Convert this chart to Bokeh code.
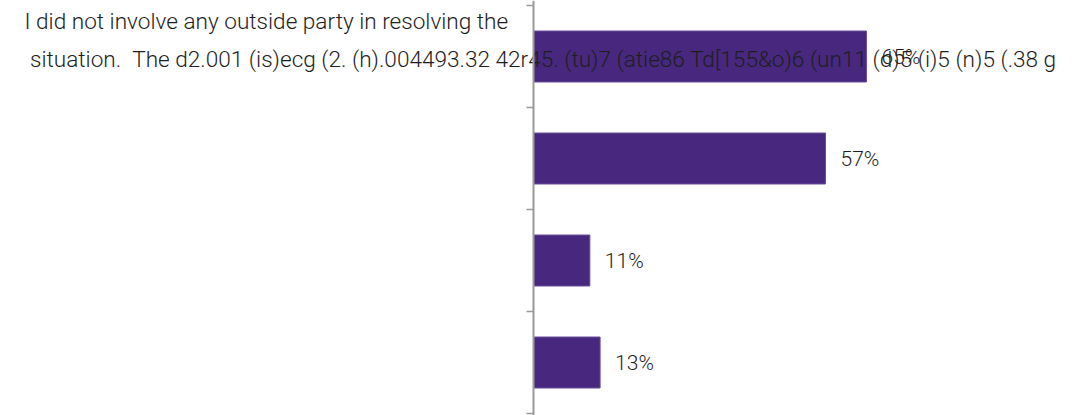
import math
from bokeh.plotting import figure
from bokeh.models import Range1d, Span, ColumnDataSource
from bokeh.core.properties import value
from bokeh.embed import file_html
from bokeh.resources import INLINE

# ---- data ----
categories = [
    "I did not involve any outside party in resolving the\n"
    "\u00a0situation. \u00a0The d2.001 (is)ecg (2. (h).004493.32 42r45. (tu)7 (atie86 Td[155&o)6 (un11 (d)5 (i)5 (n)5 (.38 g",
    "",
    "",
    "",
]
values = [65, 57, 11, 13]
value_labels = ["65%", "57%", "11%", "13%"]

# ---- layout ----
W, H = 1076, 415
AXIS_PX = 533          # position of value 0 inside figure
SCALE = 5.123          # px per percent
BAND = 102.0           # px per category band
TOP_PX = 5.0           # first band boundary relative to figure top

x_start = -AXIS_PX / SCALE
x_end = (W - AXIS_PX) / SCALE
y_top = -TOP_PX / BAND
y_bottom = (H - TOP_PX) / BAND

n = len(values)
centers = [i + 0.5 for i in range(n)]
src = ColumnDataSource(dict(y=centers, v=values, lab=value_labels))

p = figure(width=W, height=H, output_backend="svg", toolbar_location=None,
           x_range=Range1d(x_start, x_end), y_range=Range1d(y_bottom, y_top),
           min_border=0, outline_line_color=None)
p.xaxis.visible = False
p.yaxis.visible = False
p.grid.visible = False
p.background_fill_color = "white"
p.border_fill_color = "white"

BAR = "#48287F"
p.hbar(y="y", left=0, right="v", height=0.5, source=src,
       fill_color=BAR, line_color="#6B4E9E", line_width=1)

# axis line and ticks
p.add_layout(Span(location=0, dimension="height", line_color="#9a9a9a", line_width=2))
boundaries = list(range(n + 1))
p.ray(x=[0] * len(boundaries), y=boundaries, length=7, length_units="screen",
      angle=math.pi, line_color="#9a9a9a", line_width=1.5)

TXT = "#1e1e1e"
FONT = value("Roboto Light")
# category label
p.text(x=[x_start + 24 / SCALE], y=[centers[0]], text=[categories[0]],
       y_offset=-16, text_align="left", text_baseline="middle",
       text_font=FONT, text_font_size="22.6px", text_color=TXT,
       text_line_height=1.4)

# value labels
p.text(x="v", y="y", text="lab", source=src, x_offset=15,
       text_align="left", text_baseline="middle",
       text_font=FONT, text_font_size="21px", text_color=TXT)

open("out.html", "w").write(file_html(p, INLINE))
